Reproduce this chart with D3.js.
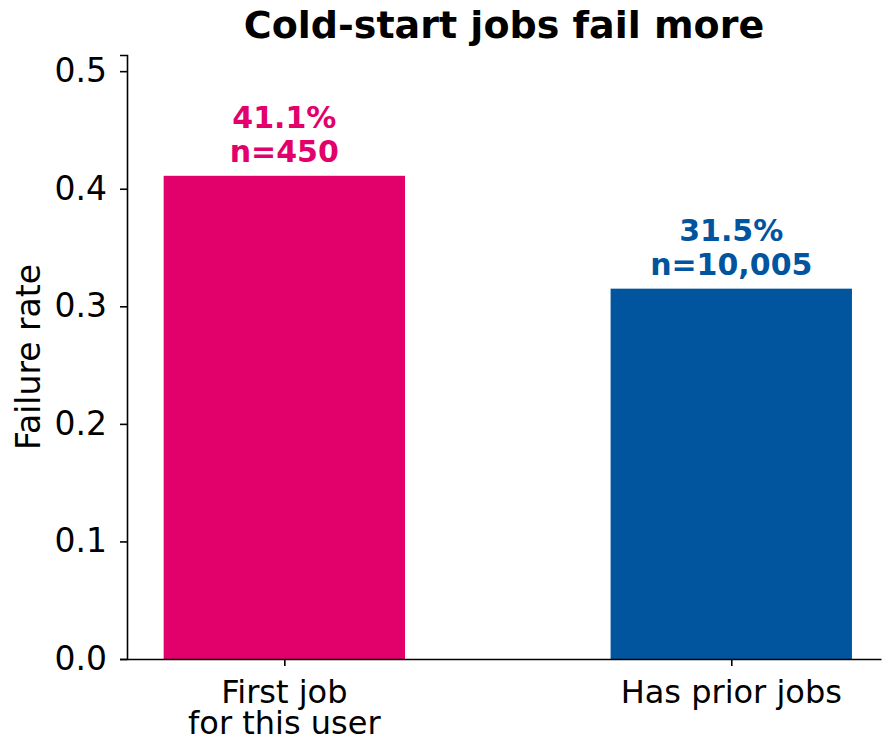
<!DOCTYPE html>
<html>
<head>
<meta charset="utf-8">
<script src="https://cdn.jsdelivr.net/npm/d3@7"></script>
<style>
  body { margin: 0; background: #fff; }
  svg { display: block; font-family: "DejaVu Sans", sans-serif; }
</style>
</head>
<body>
<div id="chart"></div>
<script>
const categories = ['First job\nfor this user', 'Has prior jobs'];
const rates = [0.411, 0.315];
const counts = ['450', '10,005'];
const colors = ['#e2006a', '#01549e'];
const yTicks = [0.0, 0.1, 0.2, 0.3, 0.4, 0.5];

const width = 883;
const height = 744;
const margin = { left: 127, right: 2, top: 55, bottom: 85 };
const plotW = width - margin.left - margin.right;
const plotH = height - margin.top - margin.bottom;

const svg = d3.select('#chart')
  .append('svg')
  .attr('width', width)
  .attr('height', height);

// x positions 0 and 1, bars 0.54 wide, limits a bit past the bars
const x = d3.scaleLinear()
  .domain([-0.352, 1.335])
  .range([margin.left, margin.left + plotW]);
const barW = 0.54;

const y = d3.scaleLinear()
  .domain([0, d3.max(rates) * 1.25])
  .range([margin.top + plotH, margin.top]);

// title
svg.append('text')
  .attr('x', margin.left + plotW / 2)
  .attr('y', 38)
  .attr('text-anchor', 'middle')
  .attr('font-size', '38px')
  .attr('font-weight', 'bold')
  .text('Cold-start jobs fail more');

// bars
svg.selectAll('.bar')
  .data(rates)
  .enter()
  .append('rect')
  .attr('class', 'bar')
  .attr('x', (d, i) => x(i - barW / 2))
  .attr('width', (d, i) => x(i + barW / 2) - x(i - barW / 2))
  .attr('y', d => y(d))
  .attr('height', d => y(0) - y(d))
  .attr('fill', (d, i) => colors[i]);

// value labels above the bars
const lab = svg.selectAll('.val')
  .data(rates)
  .enter()
  .append('text')
  .attr('class', 'val')
  .attr('text-anchor', 'middle')
  .attr('font-size', '30px')
  .attr('font-weight', 'bold')
  .attr('fill', (d, i) => colors[i]);
lab.append('tspan')
  .attr('x', (d, i) => x(i))
  .attr('y', d => y(d) - 48)
  .text(d => (d * 100).toFixed(1) + '%');
lab.append('tspan')
  .attr('x', (d, i) => x(i))
  .attr('y', d => y(d) - 14)
  .text((d, i) => 'n=' + counts[i]);

// y axis
const yAxis = svg.append('g')
  .attr('transform', `translate(${margin.left},0)`)
  .call(d3.axisLeft(y).tickValues(yTicks).tickFormat(d3.format('.1f')).tickSize(7).tickPadding(13));
yAxis.select('.domain').attr('stroke', '#000').attr('stroke-width', 1.6);
yAxis.selectAll('.tick line').attr('stroke', '#000').attr('stroke-width', 1.6);
yAxis.selectAll('.tick text')
  .attr('font-size', '33px')
  .attr('font-family', '"DejaVu Sans", sans-serif')
  .attr('fill', '#000');

// x axis
const xAxis = svg.append('g')
  .attr('transform', `translate(0,${y(0)})`)
  .call(d3.axisBottom(x).tickValues([0, 1]).tickFormat('').tickSize(7).tickSizeOuter(0));
xAxis.select('.domain').attr('stroke', '#000').attr('stroke-width', 1.6);
xAxis.selectAll('.tick line').attr('stroke', '#000').attr('stroke-width', 1.6);

// multi-line category labels
const xl = svg.selectAll('.xlab')
  .data(categories)
  .enter()
  .append('text')
  .attr('class', 'xlab')
  .attr('text-anchor', 'middle')
  .attr('font-size', '32px')
  .attr('fill', '#000');
xl.selectAll('tspan')
  .data((d, i) => d.split('\n').map(s => ({ s, i })))
  .enter()
  .append('tspan')
  .attr('x', d => x(d.i))
  .attr('y', (d, j) => y(0) + 44 + j * 31)
  .text(d => d.s);

// y label
svg.append('text')
  .attr('transform', `translate(40,${margin.top + plotH / 2}) rotate(-90)`)
  .attr('text-anchor', 'middle')
  .attr('font-size', '33px')
  .attr('fill', '#000')
  .text('Failure rate');
</script>
</body>
</html>
